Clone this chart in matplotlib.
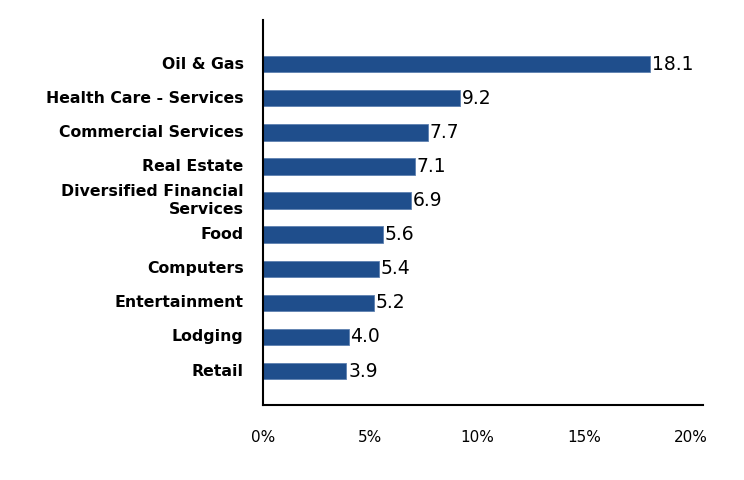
import matplotlib.pyplot as plt
import numpy as np

categories = ["Oil & Gas", "Health Care - Services", "Commercial Services", "Real Estate",
              "Diversified Financial\nServices", "Food", "Computers", "Entertainment",
              "Lodging", "Retail"]
values = [18.1, 9.2, 7.7, 7.1, 6.9, 5.6, 5.4, 5.2, 4.0, 3.9]
xticks = [0, 5, 10, 15, 20]
xtick_labels = ["0%", "5%", "10%", "15%", "20%"]

plt.rcParams['font.family'] = ['DejaVu Sans']

fig = plt.figure(figsize=(7.44, 4.8), dpi=100)
ax = fig.add_axes([0.3535, 0.156, 0.5915, 0.802])

# Retail at the bottom
ypos = np.arange(len(categories))[::-1]
bars = ax.barh(ypos, values, height=0.48, color="#1f4e8c", edgecolor="#5d80b0", linewidth=0.6)

for y, v in zip(ypos, values):
    ax.text(v + 0.08, y, f"{v:.1f}", va="center", ha="left", fontsize=13.5, color="black")

ax.set_yticks(ypos)
ax.set_yticklabels(categories, fontsize=11.3, fontweight="bold", linespacing=1.25)
for lbl in ax.get_yticklabels():
    lbl.set_verticalalignment("center")
ax.set_xticks(xticks)
ax.set_xticklabels(xtick_labels, fontsize=11)
ax.tick_params(axis="both", length=0)
ax.tick_params(axis="x", pad=18)
ax.tick_params(axis="y", pad=14)

ax.set_xlim(0, 20.56)
ax.set_ylim(-1.0, 10.29)

ax.spines["top"].set_visible(False)
ax.spines["right"].set_visible(False)
ax.spines["left"].set_linewidth(1.5)
ax.spines["bottom"].set_linewidth(1.5)

plt.savefig("out.png", dpi=100)
